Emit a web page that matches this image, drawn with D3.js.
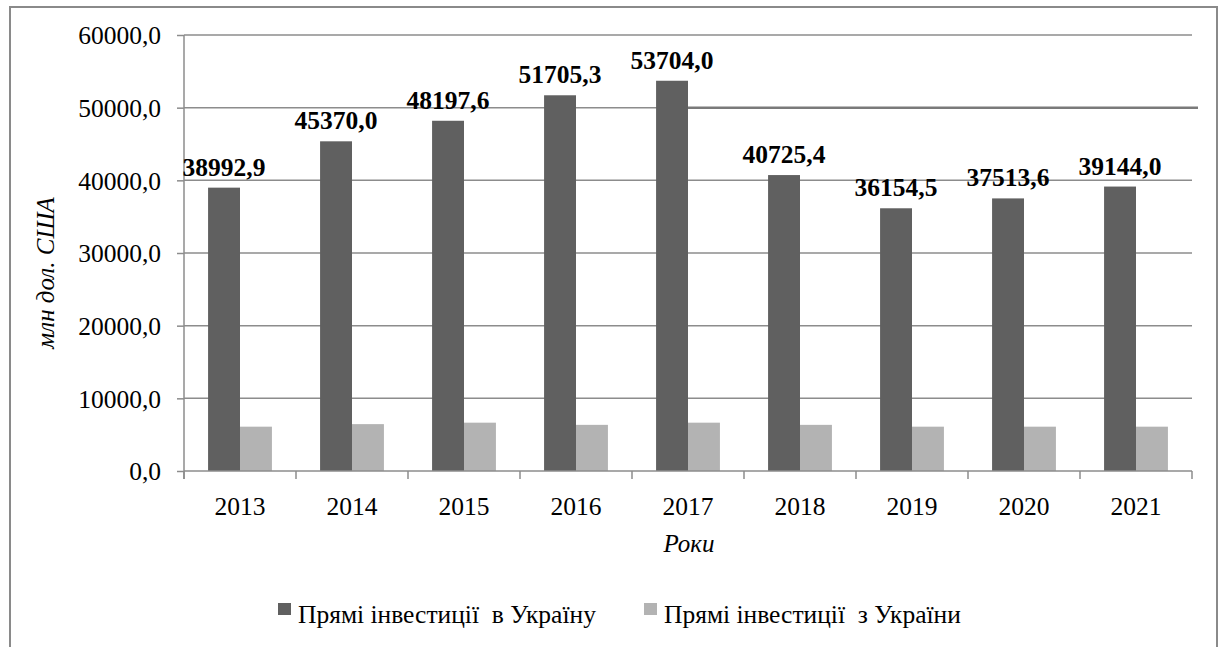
<!DOCTYPE html>
<html>
<head>
<meta charset="utf-8">
<script src="https://cdn.jsdelivr.net/npm/d3@7"></script>
<style>
  body { margin: 0; background: #fff; }
  svg text { font-family: "Liberation Serif", "Times New Roman", "DejaVu Serif", serif; fill: #000; }
</style>
</head>
<body>
<svg id="chart" width="1224" height="647" font-family="Liberation Serif"></svg>
<script>
// data
const years = ['2013', '2014', '2015', '2016', '2017', '2018', '2019', '2020', '2021'];
const investIn = [38992.9, 45370.0, 48197.6, 51705.3, 53704.0, 40725.4, 36154.5, 37513.6, 39144.0];
const investOut = [6100, 6450, 6650, 6350, 6650, 6350, 6100, 6100, 6100];
const seriesNames = ['Прямі інвестиції  в Україну', 'Прямі інвестиції  з України'];
const seriesColors = ['#606060', '#b3b3b3'];
const yTicks = [0, 10000, 20000, 30000, 40000, 50000, 60000];

const svg = d3.select('#chart');
const margin = { left: 184, right: 1192, top: 35, bottom: 471 };
const gridColor = '#8c8c8c';
const fontSize = '25.5px';
const serif = '"Liberation Serif", "Times New Roman", serif';

// outer frame
svg.append('rect')
  .attr('x', 10).attr('y', 7)
  .attr('width', 1207).attr('height', 700)
  .attr('fill', 'none')
  .attr('stroke', '#8a8a8a')
  .attr('stroke-width', 2);

const y = d3.scaleLinear().domain([0, 60000]).range([margin.bottom, margin.top]);
const x0 = d3.scaleBand().domain(years)
  .range([margin.left, margin.right])
  .paddingInner(0.43).paddingOuter(0.215);
const x1 = d3.scaleBand().domain([0, 1]).range([0, x0.bandwidth()]);
const xEdge = d3.scaleLinear().domain([0, years.length]).range([margin.left, margin.right]);

// grid lines
svg.append('g').attr('class', 'grid')
  .selectAll('line')
  .data(yTicks.filter(d => d > 0))
  .enter().append('line')
  .attr('x1', margin.left).attr('x2', margin.right)
  .attr('y1', d => y(d)).attr('y2', d => y(d))
  .attr('stroke', gridColor).attr('stroke-width', 1.5);

// y axis
const yAxis = svg.append('g')
  .attr('transform', `translate(${margin.left},0)`)
  .call(d3.axisLeft(y).tickValues(yTicks).tickSize(7).tickPadding(16)
    .tickFormat(d => d3.format('.1f')(d).replace('.', ',')));
yAxis.attr('font-family', null).attr('font-size', null);
yAxis.select('.domain').attr('stroke', gridColor).attr('stroke-width', 1.5)
  .attr('d', `M0,${margin.top}V${margin.bottom + 8}`);
yAxis.selectAll('line').attr('stroke', gridColor).attr('stroke-width', 1.5);
yAxis.selectAll('text')
  .style('font-family', serif)
  .style('font-size', fontSize).attr('fill', '#000').attr('dy', '0.34em');

// bars
const groups = svg.append('g').selectAll('g')
  .data(years.map((yr, i) => ({ yr, vals: [investIn[i], investOut[i]] })))
  .enter().append('g')
  .attr('transform', d => `translate(${x0(d.yr)},0)`);

groups.selectAll('rect')
  .data(d => d.vals)
  .enter().append('rect')
  .attr('x', (d, i) => x1(i))
  .attr('y', d => y(d))
  .attr('width', x1.bandwidth())
  .attr('height', d => y(0) - y(d))
  .attr('fill', (d, i) => seriesColors[i]);

// odd thicker segment of the 50000 line right of 2017
svg.append('line')
  .attr('x1', x0('2017') + x1.bandwidth()).attr('x2', margin.right + 6)
  .attr('y1', y(50000)).attr('y2', y(50000))
  .attr('stroke', '#7a7a7a').attr('stroke-width', 2.5);

// value labels
groups.append('text')
  .attr('x', x1(0) + x1.bandwidth() / 2)
  .attr('y', d => y(d.vals[0]) - 12)
  .attr('text-anchor', 'middle')
  .style('font-family', serif)
  .style('font-size', fontSize)
  .style('font-weight', 'bold')
  .text(d => d3.format('.1f')(d.vals[0]).replace('.', ','));

// x axis line and ticks
svg.append('line')
  .attr('x1', margin.left).attr('x2', margin.right)
  .attr('y1', y(0)).attr('y2', y(0))
  .attr('stroke', gridColor).attr('stroke-width', 1.5);
svg.append('g').selectAll('line')
  .data(d3.range(years.length + 1))
  .enter().append('line')
  .attr('x1', d => xEdge(d)).attr('x2', d => xEdge(d))
  .attr('y1', y(0)).attr('y2', y(0) + 8)
  .attr('stroke', gridColor).attr('stroke-width', 1.5);

svg.append('g').selectAll('text')
  .data(years)
  .enter().append('text')
  .attr('x', d => x0(d) + x0.bandwidth() / 2)
  .attr('y', 515)
  .attr('text-anchor', 'middle')
  .style('font-family', serif)
  .style('font-size', fontSize)
  .text(d => d);

// axis titles
svg.append('text')
  .attr('x', 689).attr('y', 552)
  .attr('text-anchor', 'middle')
  .style('font-family', serif)
  .style('font-size', '25px').style('font-style', 'italic')
  .text('Роки');

svg.append('text')
  .attr('transform', 'translate(54,273) rotate(-90)')
  .attr('text-anchor', 'middle')
  .style('font-family', serif)
  .style('font-size', '25px').style('font-style', 'italic')
  .text('млн дол. США');

// legend
const legendX = [278, 644];
const legend = svg.append('g').selectAll('g')
  .data(seriesNames)
  .enter().append('g')
  .attr('transform', (d, i) => `translate(${legendX[i]},603)`);
legend.append('rect')
  .attr('width', 13).attr('height', 12)
  .attr('fill', (d, i) => seriesColors[i]);
legend.append('text')
  .attr('x', 20).attr('y', 20)
  .style('font-family', serif)
  .style('font-size', fontSize)
  .style('white-space', 'pre')
  .text(d => d);
</script>
</body>
</html>
